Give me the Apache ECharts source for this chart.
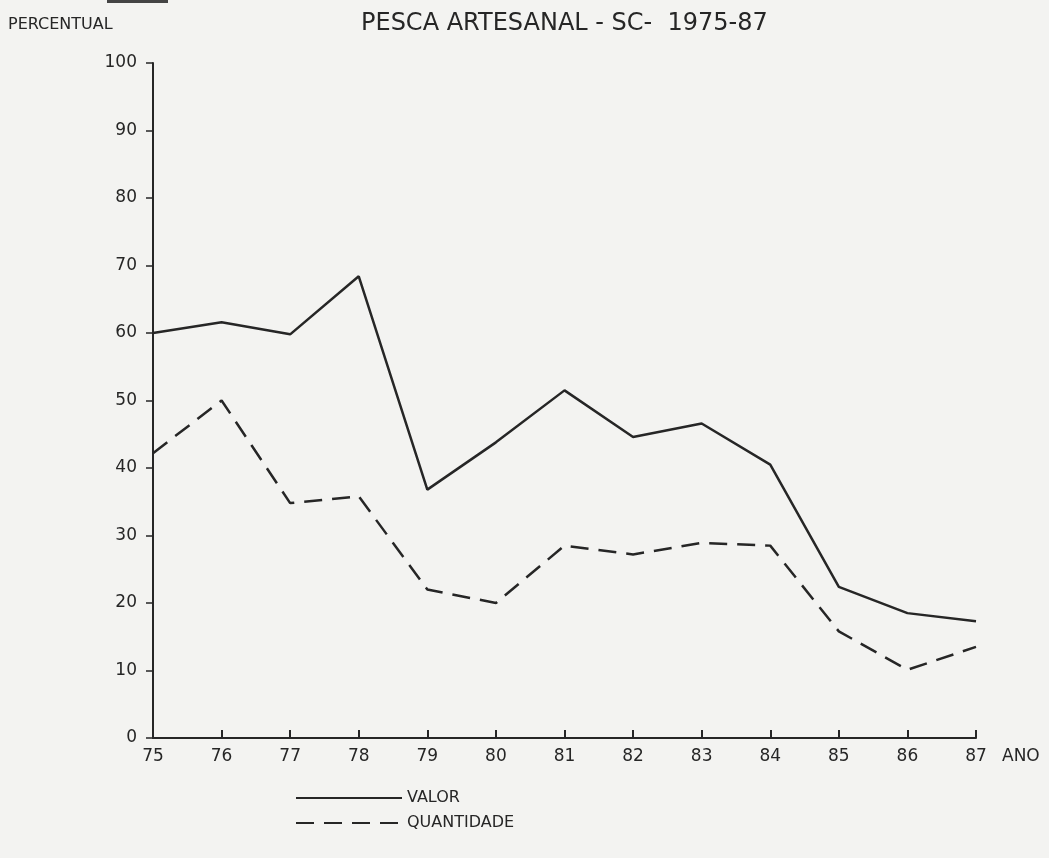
<!DOCTYPE html>
<html>
<head>
<meta charset="utf-8">
<script src="https://cdn.jsdelivr.net/npm/echarts@6/dist/echarts.min.js"></script>
<style>
  html, body { margin: 0; padding: 0; background: #f3f3f1; }
  #chart { width: 1049px; height: 858px; }
</style>
</head>
<body>
<div id="chart"></div>
<script>
// anos (eixo x)
var anos = ['75', '76', '77', '78', '79', '80', '81', '82', '83', '84', '85', '86', '87'];
// percentuais
var valor = [60, 61.6, 59.8, 68.4, 36.8, 43.8, 51.5, 44.6, 46.6, 40.5, 22.4, 18.5, 17.3];
var quantidade = [42.2, 50, 34.8, 35.8, 22, 20, 28.5, 27.2, 28.9, 28.5, 15.8, 10.1, 13.5];
var yTicks = { min: 0, max: 100, interval: 10 };

var ink = '#262626';
var fonte = 'DejaVu Sans';

var chart = echarts.init(document.getElementById('chart'));
var option = {
    backgroundColor: '#f3f3f1',
    animation: false,
    title: {
        text: 'PESCA ARTESANAL - SC-  1975-87',
        left: 356,
        top: 7,
        textStyle: { fontFamily: fonte, fontSize: 24, fontWeight: 'normal', color: ink }
    },
    graphic: [
        // trecho de sublinhado cortado no topo do scan
        { type: 'rect', shape: { x: 107, y: 0, width: 61, height: 3 }, style: { fill: '#444' } }
    ],
    legend: {
        orient: 'vertical',
        left: 290,
        top: 785,
        itemWidth: 106,
        itemHeight: 10,
        itemGap: 9,
        itemStyle: { opacity: 0 },
        textStyle: { fontFamily: fonte, fontSize: 16, color: ink, padding: [0, 0, 0, 0] },
        data: ['VALOR', 'QUANTIDADE']
    },
    grid: { left: 153, right: 73, top: 63, bottom: 120 },
    xAxis: {
        type: 'category',
        data: anos,
        boundaryGap: false,
        name: 'ANO',
        nameLocation: 'end',
        nameGap: 26,
        nameTextStyle: { fontFamily: fonte, fontSize: 17, color: ink, verticalAlign: 'top', align: 'left', padding: [10, 0, 0, 0] },
        axisLine: { lineStyle: { color: ink, width: 2 } },
        axisTick: { inside: true, length: 8, lineStyle: { color: ink, width: 2 } },
        axisLabel: { fontFamily: fonte, fontSize: 17, color: ink, margin: 10 }
    },
    yAxis: {
        type: 'value',
        min: yTicks.min,
        max: yTicks.max,
        interval: yTicks.interval,
        name: 'PERCENTUAL',
        nameLocation: 'end',
        nameGap: 30,
        nameTextStyle: { fontFamily: fonte, fontSize: 16, color: ink, align: 'left', padding: [0, 0, 0, -145] },
        splitLine: { show: false },
        axisLine: { show: true, lineStyle: { color: ink, width: 2 } },
        axisTick: { show: true, length: 7, lineStyle: { color: ink, width: 1.5 } },
        axisLabel: { fontFamily: fonte, fontSize: 17, color: ink, margin: 16 }
    },
    series: [
        {
            name: 'VALOR',
            type: 'line',
            data: valor,
            symbol: 'none',
            lineStyle: { color: ink, width: 2.5 },
            itemStyle: { color: ink }
        },
        {
            name: 'QUANTIDADE',
            type: 'line',
            data: quantidade,
            symbol: 'none',
            lineStyle: { color: ink, width: 2.5, type: [18, 10] },
            itemStyle: { color: ink }
        }
    ]
};
chart.setOption(option);
</script>
</body>
</html>
